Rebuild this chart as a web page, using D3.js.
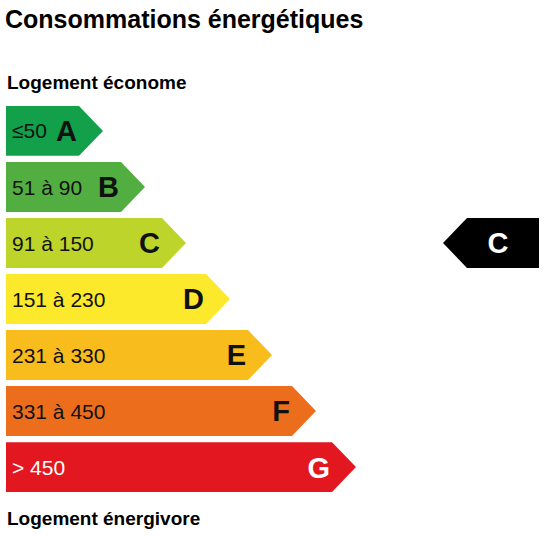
<!DOCTYPE html>
<html><head><meta charset="utf-8">
<script src="https://cdn.jsdelivr.net/npm/d3@7"></script>
<style>body{margin:0;background:#fff}</style>
</head><body>
<script>
// energy classes, top (économe) to bottom (énergivore)
const classes = ['A', 'B', 'C', 'D', 'E', 'F', 'G'];
const ranges = ['≤50', '51 à 90', '91 à 150', '151 à 230', '231 à 330', '331 à 450', '> 450'];
const tipX = [103, 145, 186, 230, 272, 316, 356]; // arrow tip x per class
const colors = ['#13a04a', '#52ae40', '#bdd52a', '#fde92b', '#f8bc1c', '#ec6e1c', '#e3171f'];
const current = 'C';

const W = 547, H = 536;
const svg = d3.select('body').append('svg').attr('width', W).attr('height', H)
  .style('font-family', 'Liberation Sans, Arial, sans-serif');

const y = d3.scaleBand().domain(classes).range([106, 492]).paddingInner(0.11);
const x = d3.scaleLinear().domain([0, 547]).range([0, 547]);
const depth = 24, x0 = 6;

svg.append('text').attr('x', 5).attr('y', 28).attr('font-size', 25).attr('font-weight', 'bold')
  .text('Consommations énergétiques');
svg.append('text').attr('x', 7).attr('y', 89).attr('font-size', 19).attr('font-weight', 'bold')
  .text('Logement économe');
svg.append('text').attr('x', 7).attr('y', 525).attr('font-size', 19).attr('font-weight', 'bold')
  .text('Logement énergivore');

const arrow = (l, r, t, h) =>
  `M${l},${t}H${r - depth}L${r},${t + h / 2}L${r - depth},${t + h}H${l}Z`;

const rows = svg.selectAll('g.row').data(classes).enter().append('g').attr('class', 'row');
const bh = y.bandwidth();
rows.append('path')
  .attr('d', (d, i) => arrow(x(x0), x(tipX[i]), y(d), bh))
  .attr('fill', (d, i) => colors[i]);
rows.append('text')
  .attr('x', 12).attr('y', d => y(d) + bh / 2).attr('dy', '0.36em')
  .attr('font-size', 21)
  .attr('fill', (d, i) => i === 6 ? '#fff' : '#111')
  .text((d, i) => ranges[i]);
rows.append('text')
  .attr('x', (d, i) => x(tipX[i]) - depth - 2).attr('y', d => y(d) + bh / 2).attr('dy', '0.36em')
  .attr('text-anchor', 'end').attr('font-size', 29).attr('font-weight', 'bold')
  .attr('fill', (d, i) => i === 6 ? '#fff' : '#111')
  .text(d => d);

// current rating marker (left-pointing black arrow)
const cy = y(current);
svg.append('path')
  .attr('d', `M${x(443)},${cy + bh / 2}L${x(443 + depth)},${cy}H${x(539)}V${cy + bh}H${x(443 + depth)}Z`)
  .attr('fill', '#000');
svg.append('text').attr('x', x(498)).attr('y', cy + bh / 2).attr('dy', '0.36em')
  .attr('text-anchor', 'middle').attr('font-size', 29).attr('font-weight', 'bold')
  .attr('fill', '#fff').text(current);
</script>
</body></html>
